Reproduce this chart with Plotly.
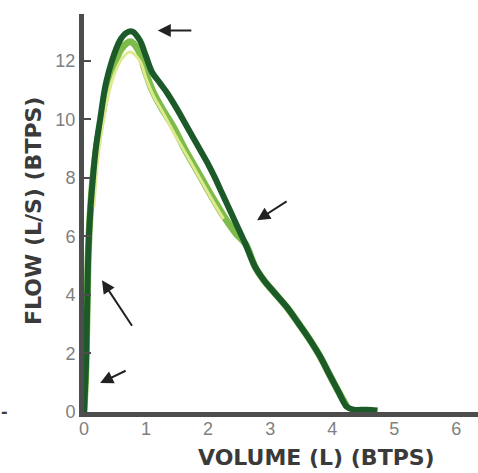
import plotly.graph_objects as go

# Outer (dark green) flow-volume curve
vol_dark = [0.0, 0.03, 0.05, 0.07, 0.1, 0.14, 0.19, 0.26, 0.35, 0.45, 0.58, 0.68, 0.78,
            0.9, 1.0, 1.1, 1.22, 1.34, 1.5, 1.66, 1.82, 1.98, 2.1, 2.22, 2.35, 2.47,
            2.6, 2.76, 2.9, 3.08, 3.27, 3.45, 3.63, 3.81, 3.95, 4.1, 4.24, 4.35, 4.55, 4.73]
flow_dark = [0.0, 1.5, 3.5, 5.5, 6.8, 7.9, 9.0, 10.0, 11.2, 12.0, 12.7, 12.95, 13.0,
             12.7, 12.15, 11.6, 11.25, 10.9, 10.35, 9.75, 9.15, 8.55, 8.05, 7.5, 6.9, 6.35,
             5.75, 4.95, 4.5, 4.05, 3.58, 3.05, 2.5, 1.88, 1.3, 0.7, 0.17, 0.08, 0.08, 0.05]

# Middle (light green) curve
vol_mid = [0.0, 0.03, 0.05, 0.07, 0.1, 0.14, 0.2, 0.28, 0.37, 0.48, 0.6, 0.75, 0.88,
           0.98, 1.1, 1.25, 1.44, 1.62, 1.82, 2.05, 2.25, 2.45, 2.6, 2.76, 2.9, 3.08,
           3.27, 3.45, 3.63, 3.81, 3.95, 4.1, 4.24]
flow_mid = [0.0, 1.5, 3.5, 5.5, 6.8, 7.9, 9.0, 10.0, 11.0, 11.8, 12.4, 12.65, 12.35,
            11.7, 11.0, 10.4, 9.74, 9.0, 8.26, 7.4, 6.7, 6.1, 5.75, 4.95, 4.5, 4.05,
            3.58, 3.05, 2.5, 1.88, 1.3, 0.7, 0.17]

# Inner (yellow-green) curve
vol_light = [0.16, 0.22, 0.3, 0.4, 0.5, 0.62, 0.74, 0.9, 1.0, 1.12, 1.28, 1.46, 1.65,
             1.85, 2.05, 2.25]
flow_light = [7.0, 8.6, 9.8, 10.9, 11.6, 12.1, 12.3, 12.0, 11.4, 10.8, 10.2, 9.5, 8.8,
              8.05, 7.3, 6.6]

y_ticks = [0, 2, 4, 6, 8, 10, 12]
x_ticks = [0, 1, 2, 3, 4, 5, 6]

# arrow heads (data coords) and tail offsets (pixels)
arrow_x = [1.19, 2.79, 0.29, 0.26]
arrow_y = [13.04, 6.55, 4.5, 0.99]
arrow_ax = [35, 31, 31, 27]
arrow_ay = [0, -20, 47, -13]

fig = go.Figure()
fig.add_trace(go.Scatter(x=vol_mid, y=flow_mid, mode="lines",
                         line=dict(color="#7dbb4a", width=7, shape="spline"), hoverinfo="skip"))
fig.add_trace(go.Scatter(x=vol_light, y=flow_light, mode="lines",
                         line=dict(color="#dfe98e", width=3, shape="spline"), hoverinfo="skip"))
fig.add_trace(go.Scatter(x=vol_dark, y=flow_dark, mode="lines",
                         line=dict(color="#1c5a2a", width=6, shape="spline"), hoverinfo="skip"))

W, H = 478, 473
L, R, T, B = 84, 0, 14, 61
pw, ph = W - L - R, H - T - B

annotations = []
for hx, hy, ax, ay in zip(arrow_x, arrow_y, arrow_ax, arrow_ay):
    annotations.append(dict(x=hx, y=hy, ax=ax, ay=ay, xref="x", yref="y",
                            showarrow=True, arrowhead=2, arrowsize=1.3, arrowwidth=2,
                            arrowcolor="#222222", text=""))

# text placed by pixel position -> paper coords
texts = [("<b>VOLUME (L) (BTPS)</b>", 316, 457, 0, 22),
         ("<b>FLOW (L/S) (BTPS)</b>", 33, 211, -90, 22),
         ("<b>-</b>", 4, 411, 0, 16)]
for txt, px, py, ang, fs in texts:
    annotations.append(dict(text=txt, x=(px - L) / pw, y=(H - B - py) / ph,
                            xref="paper", yref="paper", textangle=ang,
                            xanchor="center", yanchor="middle", showarrow=False,
                            font=dict(family="DejaVu Sans", size=fs, color="#3a3a3a")))

fig.update_layout(
    width=W, height=H,
    margin=dict(l=L, r=R, t=T, b=B, pad=0),
    paper_bgcolor="white", plot_bgcolor="white",
    showlegend=False,
    annotations=annotations,
    font=dict(family="Liberation Sans, Arial", color="#7a7a7a", size=18),
)
fig.update_xaxes(range=[0, 6.35], tickvals=x_ticks, ticktext=[str(v) for v in x_ticks],
                 showgrid=False, zeroline=False, showline=True, linecolor="#4d4d4d",
                 linewidth=5, ticks="", ticklabelstandoff=-4,
                 tickfont=dict(size=18, color="#808080"))
fig.update_yaxes(range=[0, 13.6], tickvals=y_ticks, ticktext=[str(v) for v in y_ticks],
                 showgrid=False, zeroline=False, showline=True, linecolor="#4d4d4d",
                 linewidth=5, ticks="inside", ticklen=7, tickwidth=2, tickcolor="#4d4d4d",
                 tickfont=dict(size=18, color="#808080"))

fig.write_html("out.html", config={"displayModeBar": False},
               post_script="document.body.style.margin='0';")
